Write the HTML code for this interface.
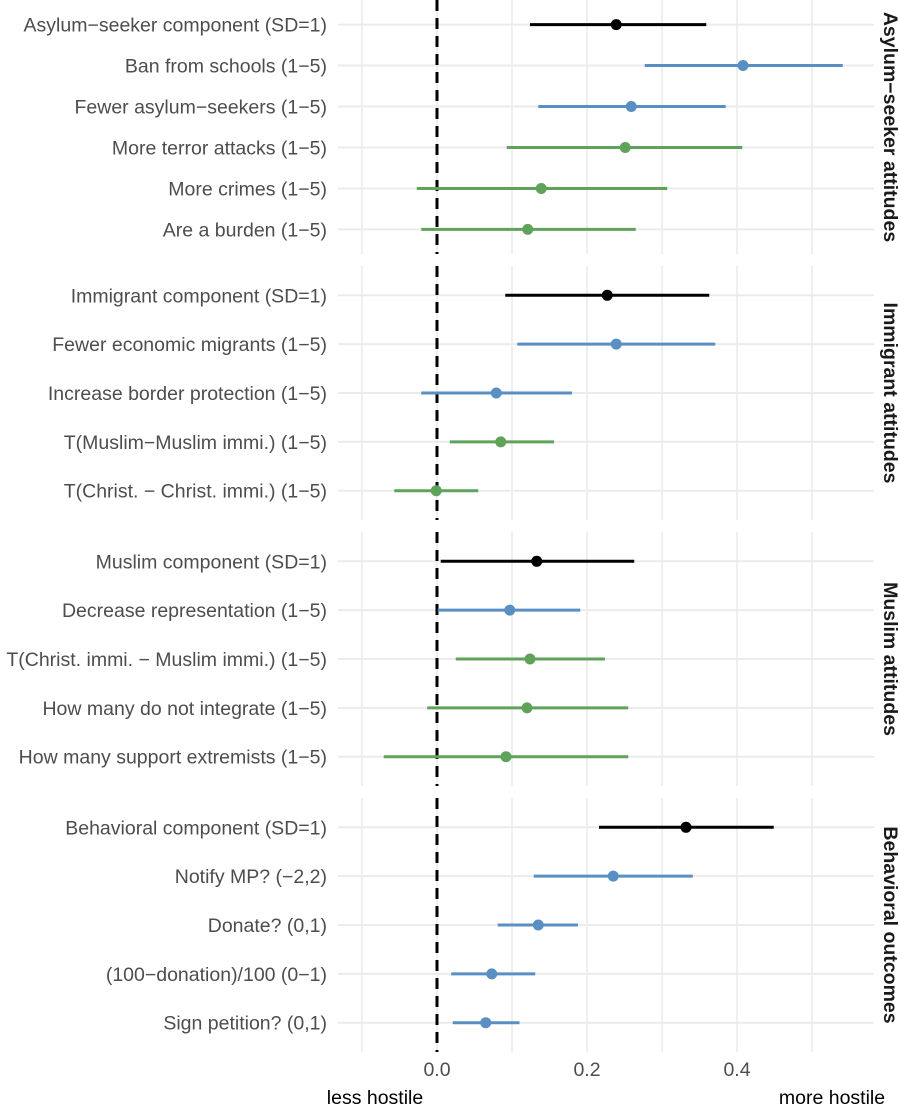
<!DOCTYPE html>
<html><head><meta charset="utf-8"><style>
html,body{margin:0;padding:0;background:#fff;}
svg{display:block;font-family:"Liberation Sans",Arial,sans-serif;}
</style></head><body>
<svg id="chart" width="900" height="1105" viewBox="0 0 900 1105"></svg>
<script>
const panelNames = ["Asylum\u2212seeker attitudes","Immigrant attitudes","Muslim attitudes","Behavioral outcomes"];
const labels = [
 ["Asylum\u2212seeker component (SD=1)","Ban from schools (1\u22125)","Fewer asylum\u2212seekers (1\u22125)","More terror attacks (1\u22125)","More crimes (1\u22125)","Are a burden (1\u22125)"],
 ["Immigrant component (SD=1)","Fewer economic migrants (1\u22125)","Increase border protection (1\u22125)","T(Muslim\u2212Muslim immi.) (1\u22125)","T(Christ. \u2212 Christ. immi.) (1\u22125)"],
 ["Muslim component (SD=1)","Decrease representation (1\u22125)","T(Christ. immi. \u2212 Muslim immi.) (1\u22125)","How many do not integrate (1\u22125)","How many support extremists (1\u22125)"],
 ["Behavioral component (SD=1)","Notify MP? (\u22122,2)","Donate? (0,1)","(100\u2212donation)/100 (0\u22121)","Sign petition? (0,1)"]
];
const estimates = [
 [0.239,0.408,0.259,0.251,0.139,0.121],
 [0.227,0.239,0.079,0.085,-0.001],
 [0.133,0.097,0.124,0.120,0.092],
 [0.332,0.235,0.135,0.073,0.065]
];
const lower = [
 [0.124,0.277,0.135,0.093,-0.027,-0.021],
 [0.091,0.107,-0.021,0.017,-0.057],
 [0.005,0.001,0.025,-0.013,-0.071],
 [0.216,0.129,0.081,0.019,0.021]
];
const upper = [
 [0.359,0.541,0.385,0.407,0.307,0.265],
 [0.363,0.371,0.180,0.156,0.055],
 [0.263,0.191,0.224,0.255,0.255],
 [0.449,0.341,0.188,0.131,0.110]
];
const groups = [
 ["comp","direct","direct","indirect","indirect","indirect"],
 ["comp","direct","direct","indirect","indirect"],
 ["comp","direct","indirect","indirect","indirect"],
 ["comp","direct","direct","direct","direct"]
];
const xTicks = [0.0,0.2,0.4];
const xTickLabels = ["0.0","0.2","0.4"];
const xGrid = [-0.1,0,0.1,0.2,0.3,0.4,0.5];
const colors = {comp:"#000000",direct:"#5a8fc3",indirect:"#5fa35b"};

const NS="http://www.w3.org/2000/svg";
const svg=document.getElementById('chart');
const X0=338, X1=874;
const FS=19.5;
const xs = v => 437 + v*750;
const panels=[[0,254],[266,520],[532,786],[798,1052]];
function mk(tag,attrs,parent){const e=document.createElementNS(NS,tag);for(const k in attrs)e.setAttribute(k,attrs[k]);(parent||svg).appendChild(e);return e;}

panels.forEach((p,pi)=>{
  const g=mk('g',{});
  
  
  const n=labels[pi].length;
  const step=(p[1]-p[0])/(n-1+1.2);
  const ys = i => p[0]+step*0.6+i*step;
  xGrid.forEach(v=>{
    const l=mk('line',{x1:xs(v),x2:xs(v),y1:p[0],y2:p[1],stroke:'#ebebeb','stroke-width':1.6},g);
    
    
  });
  for(let i=0;i<n;i++){
    const l=mk('line',{x1:X0,x2:X1,y1:ys(i),y2:ys(i),stroke:'#ebebeb','stroke-width':2},g);
    
    
  }
  const zl=mk('line',{x1:xs(0),x2:xs(0),y1:p[0],y2:p[1],stroke:'#000','stroke-width':3,'stroke-dasharray':'11,7'},g);
  
  
  for(let i=0;i<n;i++){
    const c=colors[groups[pi][i]];
    const t=mk('text',{x:327,y:ys(i)+7,'text-anchor':'end','font-size':FS,fill:'#4d4d4d'},g);
    t.textContent=labels[pi][i];
    
    
    const e=mk('line',{x1:xs(lower[pi][i]),x2:xs(upper[pi][i]),y1:ys(i),y2:ys(i),stroke:c,'stroke-width':3},g);
    
    
    const d=mk('circle',{cx:xs(estimates[pi][i]),cy:ys(i),r:5.5,fill:c},g);
    
    
  }
  const cy=(p[0]+p[1])/2;
  const s=mk('text',{x:0,y:0,transform:`translate(884,${cy}) rotate(90)`,'text-anchor':'middle','font-size':FS,'font-weight':'bold',fill:'#1a1a1a'},g);
  s.textContent=panelNames[pi];
  
  
});
xTicks.forEach((v,i)=>{
  const t=mk('text',{x:xs(v),y:1076,'text-anchor':'middle','font-size':FS,fill:'#4d4d4d'});
  t.textContent=xTickLabels[i];
  
  
});
const a=mk('text',{x:375,y:1104,'text-anchor':'middle','font-size':FS,fill:'#000'});
a.textContent='less hostile';


const b=mk('text',{x:832,y:1104,'text-anchor':'middle','font-size':FS,fill:'#000'});
b.textContent='more hostile';


</script>
</body></html>
